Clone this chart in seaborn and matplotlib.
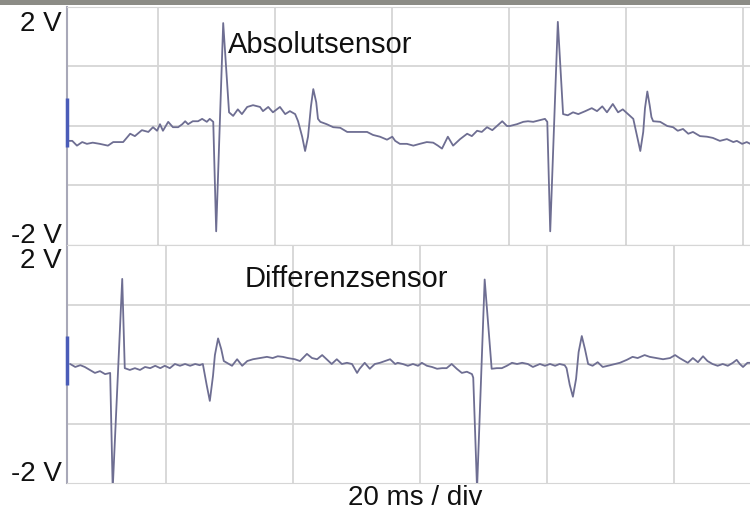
import numpy as np
import pandas as pd
import matplotlib
matplotlib.use("Agg")
import matplotlib.pyplot as plt
import seaborn as sns
from matplotlib.patches import Rectangle

abs_t = [0.3, 0.9, 1.7, 2.6, 3.4, 4.4, 5.6, 7.0, 7.9, 9.6, 10.8, 11.6, 12.8, 13.9, 14.7, 15.4,
         15.9, 16.4, 17.3, 18.1, 19.0, 19.7, 20.2, 20.7, 21.5, 22.4, 23.1, 23.9, 24.4, 25.0,
         25.5, 26.7, 27.7, 28.4, 29.2, 29.9, 30.8, 31.8, 33.0, 33.5, 34.4, 35.2, 36.4, 37.3,
         38.1, 39.0, 39.5, 40.2, 40.7, 41.2, 41.7, 42.1, 42.6, 42.9, 43.3, 44.4, 45.5, 46.7,
         47.9, 49.6, 51.3, 52.3, 53.5,
         54.7, 55.6, 56.1, 56.9, 58.1, 59.2, 60.3, 61.5, 62.6, 63.4, 64.1, 65.1, 66.0, 67.2,
         68.4, 69.2, 70.1, 70.9, 71.8, 72.7, 73.5, 74.4, 75.2, 75.7, 76.9, 78.0, 78.8, 79.7,
         80.9, 81.7, 82.1, 82.6, 83.9, 84.8, 85.6, 86.5, 87.4, 88.6, 89.7, 90.6, 91.5, 92.3,
         93.3, 94.2, 95.0, 95.9, 96.8, 97.4, 98.0, 98.5, 98.8, 99.2, 99.6, 99.9, 100.2, 101.4,
         102.6, 103.6, 104.4, 105.3,
         106.2, 107.0, 108.2, 109.4, 110.4, 111.6, 112.8, 113.9, 114.5, 115.4, 116.2, 116.8]
abs_v = [-0.25, -0.25, -0.33, -0.27, -0.30, -0.28, -0.30, -0.33, -0.27, -0.27, -0.13, -0.17,
         -0.07, -0.10, -0.02, -0.08, 0.03, -0.08, 0.07, -0.02, -0.02, 0.03, 0.08, 0.03, 0.08,
         0.08, 0.12, 0.07, 0.12, 0.07,
         -1.77, 1.73, 0.23, 0.17, 0.28, 0.20, 0.32, 0.35, 0.32, 0.25, 0.32, 0.23, 0.32, 0.20,
         0.25, 0.20, 0.08, -0.18, -0.42, -0.18, 0.33, 0.62, 0.40, 0.12, 0.07, 0.03, -0.02,
         -0.03, -0.10, -0.10, -0.10, -0.15,
         -0.18, -0.23, -0.18, -0.25, -0.30, -0.30, -0.33, -0.30, -0.27, -0.28, -0.33, -0.38,
         -0.18, -0.33, -0.22, -0.13, -0.17, -0.08, -0.10, -0.02, -0.07, 0.00, 0.08, 0.00, 0.00,
         0.03, 0.07, 0.08, 0.07, 0.10, 0.12, 0.07, -1.77, 1.75, 0.20, 0.18, 0.23, 0.20, 0.25,
         0.30, 0.25, 0.33, 0.23, 0.37, 0.23, 0.28, 0.20, 0.12, -0.15, -0.42, -0.10, 0.30, 0.58,
         0.35, 0.15, 0.08, 0.07, 0.00,
         -0.02, -0.08, -0.05, -0.13, -0.10, -0.17, -0.18, -0.20, -0.25, -0.22, -0.27, -0.25,
         -0.30, -0.27, -0.30]

diff_t = [0.5, 1.3, 2.1, 2.8, 3.6, 4.4, 5.2, 6.0, 6.8, 7.2, 8.7, 9.1, 9.9, 10.7, 11.5, 12.3,
          13.1, 13.9, 14.7, 15.4, 16.2, 17.0, 17.8, 18.6, 19.4, 20.2, 20.9, 21.4, 22.0, 22.5,
          23.0, 23.3, 23.8, 24.3, 24.7,
          25.2, 26.0, 26.8, 27.6, 28.4, 29.3, 30.4, 31.5, 32.4, 33.2, 34.0, 34.8, 35.9, 36.7,
          37.8, 38.6, 39.4, 40.2, 40.9, 41.7, 42.5, 43.3, 44.1, 44.9, 45.7, 46.1, 46.9, 47.7,
          48.5, 49.3, 50.1, 50.9, 51.7, 52.1, 52.9, 53.7, 54.5, 55.3, 55.9, 56.7, 57.5, 58.3,
          59.1, 59.8, 60.6, 61.4, 62.2, 63.0, 63.8, 64.0, 64.6, 65.8, 66.9, 67.7, 68.5, 69.3,
          70.1, 70.9, 71.7, 72.6, 73.4, 74.5, 75.3, 76.1, 76.9, 77.6, 78.4, 78.7, 79.2, 79.7,
          80.2, 80.6, 81.1, 81.6,
          82.1, 82.8, 83.6, 84.4, 85.2, 86.3, 87.1, 88.2, 89.1, 89.9, 91.0, 91.8, 92.9, 93.9,
          95.0, 95.8, 96.5, 97.3, 97.8, 98.6, 99.4, 100.2, 100.9, 101.7, 102.5, 103.3, 104.1,
          104.9, 105.5, 106.0, 106.5, 107.2, 107.6]
diff_v = [0.00, -0.05, -0.02, -0.05, -0.10, -0.15, -0.12, -0.17, -0.15, -2.10, 1.43, -0.07,
          -0.10, -0.07, -0.10, -0.05, -0.07, -0.03, -0.07, -0.03, -0.07, 0.00, -0.03, 0.00,
          -0.03, 0.00, -0.02, 0.00, -0.35, -0.62, -0.20, 0.15, 0.43, 0.25, 0.05,
          0.02, -0.03, 0.08, -0.03, 0.05, 0.08, 0.10,
          0.12, 0.10, 0.13, 0.12, 0.10, 0.08, 0.05, 0.17, 0.10, 0.08, 0.15, 0.08, 0.00, 0.08,
          0.00, 0.02, 0.00, -0.15, -0.08, 0.02, -0.08, 0.00, 0.02, 0.05, 0.08, 0.00, 0.02, 0.00,
          -0.03, 0.00, -0.03, 0.02, -0.03, -0.05, -0.08, -0.07, -0.07, 0.00, -0.08, -0.15,
          -0.13, -0.17, -0.23, -2.10, 1.42, -0.08, -0.07, -0.07, -0.03, 0.02, 0.00, 0.02, 0.00,
          -0.05, 0.00, -0.03, 0.00, -0.03, 0.00, -0.02, -0.07, -0.35, -0.55, -0.25, 0.20, 0.47,
          0.25, 0.00, -0.03, 0.03,
          -0.05, -0.03, 0.00, 0.02, 0.07, 0.12, 0.10, 0.15, 0.12, 0.10, 0.08, 0.10, 0.15, 0.10,
          0.05, 0.02, 0.10, 0.03, 0.13, 0.05, 0.00, -0.03, 0.00, -0.03, 0.02, 0.07, 0.00, -0.05,
          0.02, 0.02]

panels = [
    ("Absolutsensor", abs_t, abs_v, 116.75),
    ("Differenzsensor", diff_t, diff_v, 107.6),
]

sns.set_style("white")
plt.rcParams['font.family'] = ['Liberation Sans', 'DejaVu Sans']

W, H = 750, 511
fig = plt.figure(figsize=(7.5, 5.11), dpi=100)
fig.patch.set_facecolor("white")

trace_col = "#6e6e92"
grid_col = "#d6d6d6"
marker_col = "#4a5cb8"

# Bildschirm-Rechtecke in Pixeln: (oben, unten)
rows = [(7, 245), (245, 483)]
axes = []
for (name, t, v, tmax), (top, bot) in zip(panels, rows):
    ax = fig.add_axes([67 / W, 1 - bot / H, (W - 67) / W, (bot - top) / H])
    df = pd.DataFrame({"t": t, "v": v})
    sns.lineplot(data=df, x="t", y="v", ax=ax, color=trace_col, linewidth=1.3,
                 sort=False, estimator=None, zorder=3, solid_joinstyle="round")
    ax.set_xlim(0, tmax)
    ax.set_ylim(-2, 2)
    ax.set_xticks(np.arange(15.6, tmax, 20))
    ax.set_yticks([-1, 0, 1])
    ax.grid(True, color=grid_col, linewidth=1.3)
    ax.tick_params(length=0, labelbottom=False, labelleft=False)
    ax.set_xlabel("")
    ax.set_ylabel("")
    ax.spines["right"].set_visible(False)
    ax.spines["left"].set_color("#a8a8b8")
    ax.spines["left"].set_linewidth(1.5)
    ax.spines["top"].set_color(grid_col)
    ax.spines["bottom"].set_color(grid_col)
    # Kanalmarke an der Nulllinie
    ax.plot([0.05, 0.05], [-0.35, 0.47], color=marker_col, linewidth=2.5,
            solid_capstyle="butt", zorder=4, clip_on=False)
    axes.append(ax)

axes[0].spines["bottom"].set_color("#8e8e8e")
axes[0].spines["bottom"].set_zorder(5)

axes[0].text(228 / W, 1 - 53 / H, "Absolutsensor", transform=fig.transFigure,
             fontsize=21, ha="left", va="baseline", color="#111111")
axes[1].text(245 / W, 1 - 287 / H, "Differenzsensor", transform=fig.transFigure,
             fontsize=21, ha="left", va="baseline", color="#111111")

for lab, yb in [("2 V", 31), ("-2 V", 243), ("2 V", 268), ("-2 V", 481)]:
    fig.text(62 / W, 1 - yb / H, lab, fontsize=20, ha="right", va="baseline", color="#111111")

fig.text(348 / W, 1 - 505 / H, "20 ms / div", fontsize=20, ha="left", va="baseline",
         color="#111111")

# grauer Rand oben
fig.patches.append(Rectangle((0, 1 - 5 / H), 1, 5 / H, transform=fig.transFigure,
                             facecolor="#8c8c86", edgecolor="none", zorder=0))

fig.savefig("out.png", dpi=100, facecolor="white")
